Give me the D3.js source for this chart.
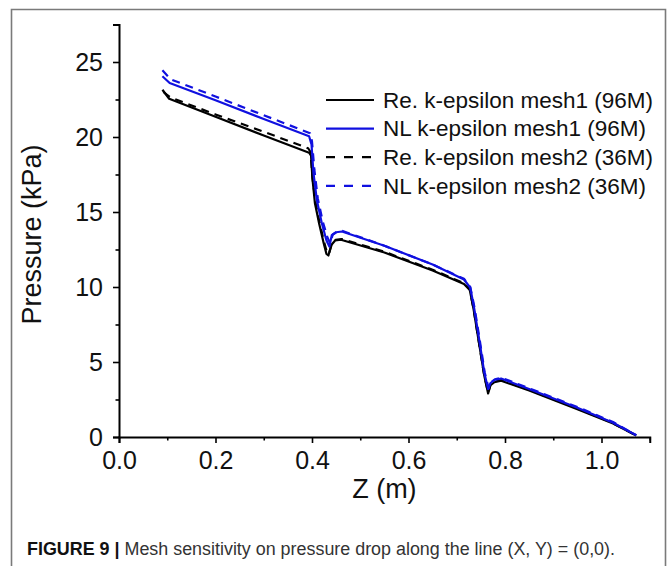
<!DOCTYPE html>
<html>
<head>
<meta charset="utf-8">
<script src="https://d3js.org/d3.v7.min.js"></script>
<style>
  body { margin: 0; background: #fff; }
  svg text { font-family: "Liberation Sans", Arial, sans-serif; fill: #111; }
</style>
</head>
<body>
<svg id="chart" width="667" height="566"></svg>
<script>
// series: Z (m) and pressure (kPa)
const reMesh1Z = [0.090, 0.104, 0.20, 0.30, 0.394, 0.398, 0.401, 0.406, 0.415, 0.424, 0.430, 0.434, 0.440, 0.448, 0.460, 0.55, 0.65, 0.715, 0.727, 0.735, 0.745, 0.757, 0.765, 0.770, 0.778, 0.792, 0.85, 0.95, 1.024, 1.072];
const reMesh1P = [23.15, 22.55, 21.35, 20.1, 18.95, 18.75, 17.2, 15.6, 14.2, 12.95, 12.2, 12.1, 12.8, 13.1, 13.15, 12.3, 11.1, 10.2, 9.8, 8.5, 6.5, 4.1, 2.9, 3.45, 3.65, 3.75, 3.1, 1.85, 0.9, 0.1];

const nlMesh1Z = [0.090, 0.105, 0.20, 0.30, 0.394, 0.399, 0.403, 0.410, 0.420, 0.430, 0.436, 0.441, 0.450, 0.462, 0.55, 0.65, 0.715, 0.728, 0.736, 0.746, 0.757, 0.765, 0.770, 0.778, 0.792, 0.85, 0.95, 1.024, 1.072];
const nlMesh1P = [24.05, 23.6, 22.45, 21.2, 20.05, 19.5, 17.6, 15.8, 14.3, 13.1, 12.7, 13.45, 13.65, 13.7, 12.75, 11.5, 10.5, 9.95, 8.6, 6.6, 4.3, 3.2, 3.6, 3.8, 3.9, 3.2, 1.95, 0.95, 0.12];

const reMesh2Z = [0.092, 0.106, 0.20, 0.30, 0.392, 0.397, 0.401, 0.407, 0.416, 0.425, 0.431, 0.435, 0.441, 0.449, 0.461, 0.55, 0.65, 0.715, 0.727, 0.735, 0.745, 0.757, 0.765, 0.770, 0.778, 0.792, 0.85, 0.95, 1.024, 1.072];
const reMesh2P = [23.0, 22.65, 21.5, 20.35, 19.25, 19.0, 17.3, 15.7, 14.25, 13.0, 12.3, 12.2, 12.85, 13.15, 13.2, 12.35, 11.15, 10.25, 9.85, 8.5, 6.5, 4.1, 2.95, 3.5, 3.7, 3.8, 3.15, 1.9, 0.92, 0.1];

const nlMesh2Z = [0.090, 0.107, 0.20, 0.30, 0.396, 0.400, 0.405, 0.412, 0.422, 0.432, 0.438, 0.443, 0.452, 0.462, 0.55, 0.65, 0.715, 0.728, 0.737, 0.747, 0.758, 0.766, 0.771, 0.779, 0.793, 0.85, 0.95, 1.024, 1.072];
const nlMesh2P = [24.45, 23.85, 22.7, 21.45, 20.25, 19.7, 17.8, 15.9, 14.4, 13.3, 12.9, 13.5, 13.7, 13.75, 12.75, 11.5, 10.55, 10.0, 8.6, 6.6, 4.3, 3.25, 3.65, 3.85, 3.95, 3.25, 2.0, 1.0, 0.12];

const seriesNames = ["Re. k-epsilon mesh1 (96M)", "NL k-epsilon mesh1 (96M)", "Re. k-epsilon mesh2 (36M)", "NL k-epsilon mesh2 (36M)"];
const seriesColors = ["#000000", "#1010e0", "#000000", "#1010e0"];
const seriesDashed = [false, false, true, true];

const xTicks = [0.0, 0.2, 0.4, 0.6, 0.8, 1.0];
const xMinorTicks = [0.1, 0.3, 0.5, 0.7, 0.9, 1.1];
const yTicks = [0, 5, 10, 15, 20, 25];
const yMinorTicks = [2.5, 7.5, 12.5, 17.5, 22.5, 27.5];

const svg = d3.select("#chart");

// outer figure frame (no bottom edge)
svg.append("path")
  .attr("d", "M11.5,566 V9.5 H665.5 V566")
  .attr("fill", "none")
  .attr("stroke", "#7a7a7a")
  .attr("stroke-width", 1.6);

const x = d3.scaleLinear().domain([0, 1.1]).range([119, 649.75]);
const y = d3.scaleLinear().domain([0, 27.5]).range([437, 24.5]);

const series = [
  {z: reMesh1Z, p: reMesh1P},
  {z: nlMesh1Z, p: nlMesh1P},
  {z: reMesh2Z, p: reMesh2P},
  {z: nlMesh2Z, p: nlMesh2P}
].map((s, i) => ({
  name: seriesNames[i], color: seriesColors[i], dashed: seriesDashed[i],
  pts: s.z.map((v, j) => [v, s.p[j]])
}));

const line = d3.line().x(d => x(d[0])).y(d => y(d[1]));

// draw order: black solid, black dashed, blue solid, blue dashed
[0, 2, 1, 3].forEach(i => {
  const s = series[i];
  svg.append("path")
    .attr("d", line(s.pts))
    .attr("fill", "none")
    .attr("stroke", s.color)
    .attr("stroke-width", 2.2)
    .attr("stroke-linejoin", "round")
    .attr("stroke-dasharray", s.dashed ? "8,6" : null);
});

// axes
const xAxis = svg.append("g").attr("transform", "translate(0," + y(0) + ")")
  .call(d3.axisBottom(x).tickValues(xTicks).tickFormat(d3.format(".1f")).tickSize(6).tickPadding(6));
svg.append("g").attr("transform", "translate(0," + y(0) + ")")
  .call(d3.axisBottom(x).tickValues(xMinorTicks).tickFormat("").tickSize(3.5))
  .select(".domain").remove();

const yAxis = svg.append("g").attr("transform", "translate(" + x(0) + ",0)")
  .call(d3.axisLeft(y).tickValues(yTicks).tickSize(6).tickPadding(10));
svg.append("g").attr("transform", "translate(" + x(0) + ",0)")
  .call(d3.axisLeft(y).tickValues(yMinorTicks).tickFormat("").tickSize(3.5))
  .select(".domain").remove();

svg.selectAll(".domain").attr("stroke", "#000").attr("stroke-width", 2);
svg.selectAll(".tick line").attr("stroke", "#000").attr("stroke-width", 1.6);
svg.selectAll(".tick text")
  .attr("font-family", "Liberation Sans, Arial, sans-serif")
  .attr("font-size", 25)
  .attr("fill", "#111");
xAxis.selectAll(".tick text").attr("dy", "0.8em");

// axis titles
svg.append("text")
  .attr("x", x(0.55)).attr("y", 498)
  .attr("text-anchor", "middle")
  .attr("font-size", 27)
  .text("Z (m)");

svg.append("text")
  .attr("transform", "translate(41," + y(13.5) + ") rotate(-90)")
  .attr("text-anchor", "middle")
  .attr("font-size", 27)
  .text("Pressure (kPa)");

// legend
const legend = svg.append("g");
series.forEach((s, i) => {
  const ly = 100 + i * 28.6;
  legend.append("line")
    .attr("x1", 326).attr("x2", 374)
    .attr("y1", ly).attr("y2", ly)
    .attr("stroke", s.color)
    .attr("stroke-width", 2.2)
    .attr("stroke-dasharray", s.dashed ? "9,9" : null);
  legend.append("text")
    .attr("x", 383).attr("y", ly + 7.8)
    .attr("font-size", 22.5)
    .text(s.name);
});

// caption
const cap = svg.append("text")
  .attr("x", 27).attr("y", 555)
  .attr("font-size", 18)
  .attr("textLength", 588)
  .attr("lengthAdjust", "spacingAndGlyphs");
cap.append("tspan").attr("font-weight", "bold").text("FIGURE 9 | ");
cap.append("tspan").attr("fill", "#333").text("Mesh sensitivity on pressure drop along the line (X, Y) = (0,0).");
</script>
</body>
</html>
